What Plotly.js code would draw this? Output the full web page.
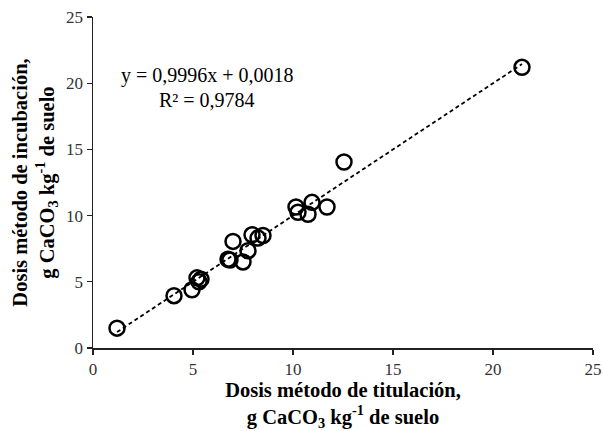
<!DOCTYPE html>
<html>
<head>
<meta charset="utf-8">
<script src="https://cdn.plot.ly/plotly-3.0.1.min.js"></script>
<style>html,body{margin:0;padding:0;background:#fff;}#chart{width:603px;height:431px;}</style>
</head>
<body>
<div id="chart"></div>
<script>
const titulacion = [1.2, 4.05, 4.95, 5.2, 5.4, 5.3, 6.75, 6.85, 7.0, 7.5, 7.75, 7.95, 8.25, 8.5, 10.15, 10.25, 10.75, 10.95, 11.7, 12.55, 21.45];
const incubacion = [1.5, 3.95, 4.4, 5.3, 5.2, 5.0, 6.7, 6.65, 8.05, 6.5, 7.35, 8.55, 8.3, 8.5, 10.65, 10.25, 10.1, 11.0, 10.65, 14.05, 21.2];
const slope = 0.9996;
const intercept = 0.0018;
const equationText = "y = 0,9996x + 0,0018";
const r2Text = "R² = 0,9784";
const tickVals = [0, 5, 10, 15, 20, 25];

const xMin = Math.min(...titulacion), xMax = Math.max(...titulacion);
const trendX = [xMin, xMax];
const trendY = trendX.map(v => slope * v + intercept);

const serif = "'Liberation Serif', 'Times New Roman', serif";

const data = [
  {
    x: trendX, y: trendY, mode: 'lines', type: 'scatter',
    line: {color: '#000', width: 1.8, dash: '4px,3px'},
    hoverinfo: 'skip', showlegend: false
  },
  {
    x: titulacion, y: incubacion, mode: 'markers', type: 'scatter',
    marker: {symbol: 'circle-open', size: 15, color: '#000', line: {color: '#000', width: 2.5}},
    showlegend: false
  }
];

const layout = {
  width: 603, height: 431,
  margin: {l: 93, r: 10, t: 17, b: 83},
  paper_bgcolor: '#fff', plot_bgcolor: '#fff',
  font: {family: serif, color: '#333', size: 16},
  xaxis: {
    range: [0, 25], tickvals: tickVals, showgrid: false, zeroline: false,
    showline: true, linecolor: '#222', linewidth: 1.5,
    ticks: 'outside', ticklen: 5, tickcolor: '#222', tickwidth: 1.2,
    tickfont: {family: serif, size: 17, color: '#333'},
    title: {
      text: 'Dosis método de titulación,<br>g CaCO<sub>3</sub> kg<sup>-1</sup> de suelo',
      font: {family: serif, size: 20.5, color: '#000', weight: 'bold'},
      standoff: 18
    }
  },
  yaxis: {
    range: [0, 25], tickvals: tickVals, showgrid: false, zeroline: false,
    showline: true, linecolor: '#222', linewidth: 1.5,
    ticks: 'outside', ticklen: 5, tickcolor: '#222', tickwidth: 1.2,
    tickfont: {family: serif, size: 17, color: '#333'},
    title: {
      text: 'Dosis método de incubación,<br>g CaCO<sub>3</sub> kg<sup>-1</sup> de suelo',
      font: {family: serif, size: 20.5, color: '#000', weight: 'bold'},
      standoff: 6
    }
  },
  annotations: [
    {x: 5.7, y: 20.55, xref: 'x', yref: 'y', text: equationText, showarrow: false,
     font: {family: serif, size: 20, color: '#000'}},
    {x: 5.7, y: 18.75, xref: 'x', yref: 'y', text: r2Text, showarrow: false,
     font: {family: serif, size: 20, color: '#000'}}
  ]
};

Plotly.newPlot('chart', data, layout, {displayModeBar: false, staticPlot: true});
</script>
</body>
</html>
